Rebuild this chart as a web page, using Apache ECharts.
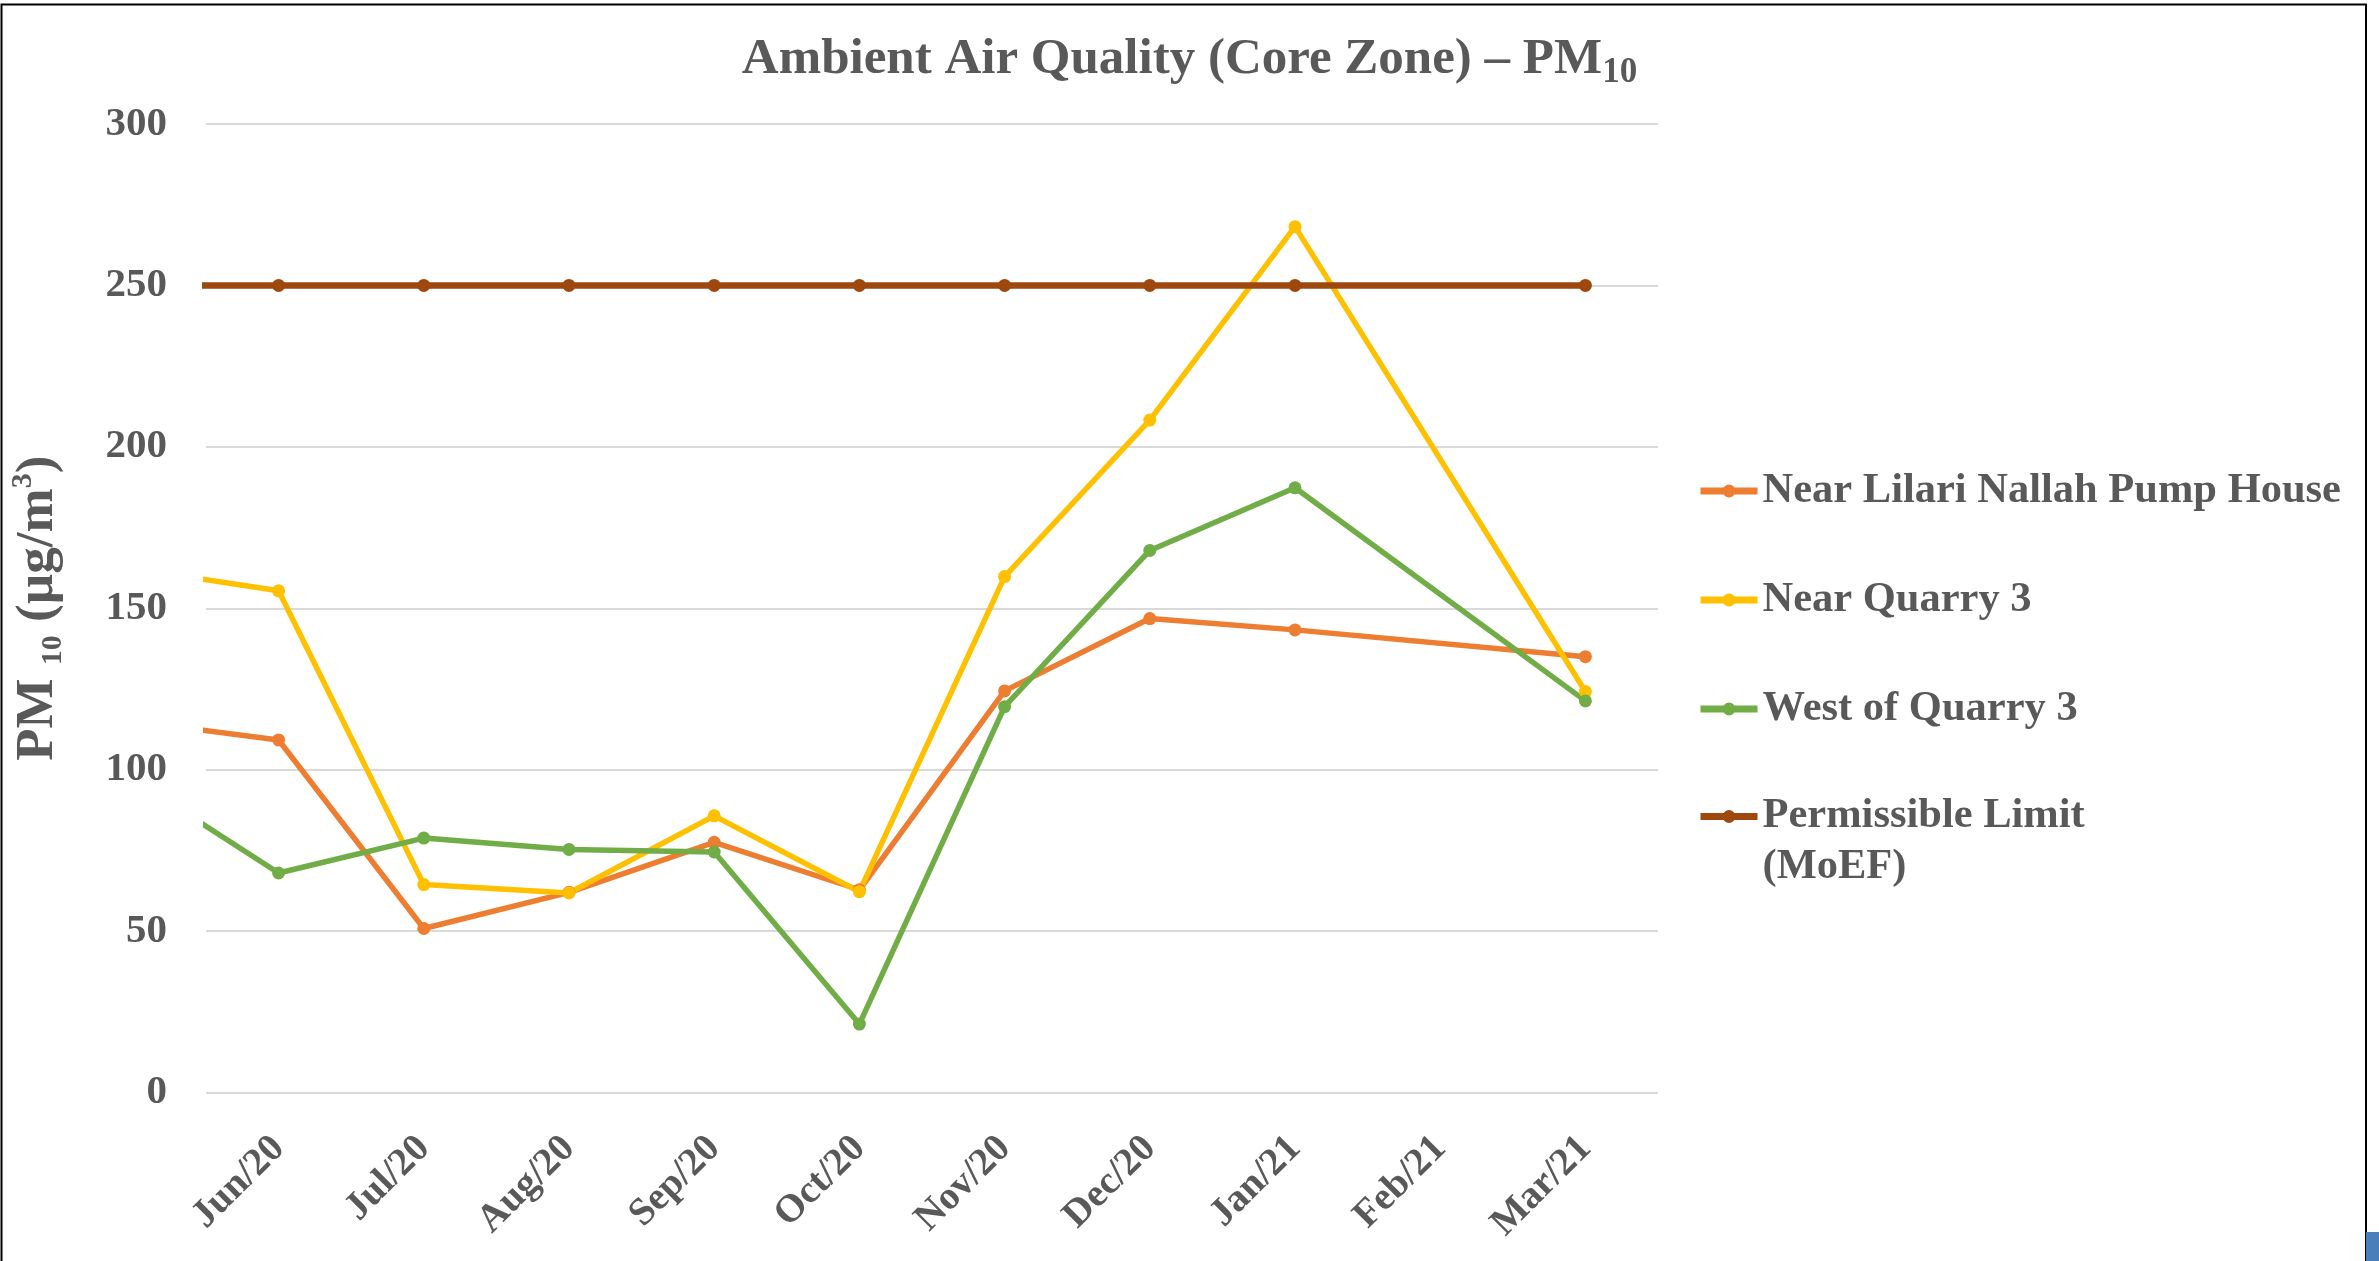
<!DOCTYPE html>
<html>
<head>
<meta charset="utf-8">
<script src="https://cdn.jsdelivr.net/npm/echarts@6/dist/echarts.min.js"></script>
<style>
html,body{margin:0;padding:0;background:#ffffff;}
#chart{width:2379px;height:1261px;}
</style>
</head>
<body>
<div id="chart"></div>
<script>
// Month categories (May/20 lies just outside the visible window, only its segment enters at the left edge)
const monthLabels = ['May/20','Jun/20','Jul/20','Aug/20','Sep/20','Oct/20','Nov/20','Dec/20','Jan/21','Feb/21','Mar/21'];
const seriesNames = ['Near Lilari Nallah Pump House','Near Quarry 3','West of Quarry 3','Permissible Limit (MoEF)'];
const nearLilariPumpHouse = [115.0, 109.2, 50.8, 62.0, 77.5, 62.8, 124.4, 146.8, 143.3, null, 135.0];
const nearQuarry3        = [162.3, 155.4, 64.4, 61.8, 85.7, 62.2, 159.8, 208.3, 268.2, null, 124.2];
const westOfQuarry3      = [97.0, 68.0, 78.8, 75.3, 74.5, 21.2, 119.5, 167.9, 187.3, null, 121.3];
const permissibleLimit   = [250, 250, 250, 250, 250, 250, 250, 250, 250, null, 250];
const yTicks = [0, 50, 100, 150, 200, 250, 300];
const seriesColors = ['#ED7D31', '#FFC000', '#70AD47', '#9E480E'];

const FONT = "'Liberation Serif', 'Times New Roman', serif";
const TXT = '#595959';

function toPoints(arr) {
  return arr.map((v, i) => [i - 1, v === null ? '-' : v]);
}
const visibleIdx = monthLabels.slice(1).map((_, i) => i);

const allValues = [nearLilariPumpHouse, nearQuarry3, westOfQuarry3, permissibleLimit];

const chart = echarts.init(document.getElementById('chart'), null, {renderer: 'canvas'});

const legendText = {fontFamily: FONT, fontWeight: 'bold', fontSize: 42.5, lineHeight: 51, color: TXT};

const option = {
  backgroundColor: '#ffffff',
  animation: false,
  title: {
    text: '{a|Ambient Air Quality (Core Zone) – PM}{s|10}',
    left: 'center',
    top: 30,
    padding: 0,
    textStyle: {
      rich: {
        a: {fontFamily: FONT, fontWeight: 'bold', fontSize: 51, lineHeight: 60, color: TXT},
        s: {fontFamily: FONT, fontWeight: 'bold', fontSize: 35, lineHeight: 28, verticalAlign: 'bottom', color: TXT}
      }
    }
  },
  grid: {left: 205, right: 721, top: 124, bottom: 168.5, containLabel: false},
  legend: [
    {
      orient: 'vertical',
      left: 1697,
      top: 465.5,
      padding: 0,
      itemGap: 58,
      itemWidth: 57,
      itemHeight: 16,
      lineStyle: {width: 7},
      data: seriesNames.slice(0, 3),
      textStyle: legendText
    },
    {
      orient: 'vertical',
      left: 1697,
      top: 740,
      padding: 0,
      itemWidth: 57,
      itemHeight: 16,
      lineStyle: {width: 7},
      data: [seriesNames[3]],
      // blank first line keeps the icon level with "Permissible Limit"
      formatter: function (name) { return ' \n' + name.replace(' (MoEF)', '\n(MoEF)'); },
      textStyle: legendText
    }
  ],
  xAxis: {
    type: 'value',
    min: -0.5,
    max: 9.5,
    axisLine: {show: false},
    axisTick: {show: false},
    splitLine: {show: false},
    axisLabel: {
      customValues: visibleIdx,
      formatter: function (v) { return monthLabels[Math.round(v) + 1]; },
      rotate: 45,
      margin: 50,
      fontFamily: FONT,
      fontWeight: 'bold',
      fontSize: 39,
      color: TXT
    }
  },
  yAxis: {
    type: 'value',
    min: yTicks[0],
    max: yTicks[yTicks.length - 1],
    interval: yTicks[1] - yTicks[0],
    axisLine: {show: false},
    axisTick: {show: false},
    splitLine: {lineStyle: {color: '#D9D9D9', width: 2}},
    axisLabel: {margin: 39, fontFamily: FONT, fontWeight: 'bold', fontSize: 41, color: TXT},
    name: '{a|PM }{s|10}{a| (µg/m}{p|3}{a|)}',
    nameLocation: 'middle',
    nameRotate: 90,
    nameGap: 138,
    nameTextStyle: {
      rich: {
        a: {fontFamily: FONT, fontWeight: 'bold', fontSize: 53, lineHeight: 60, color: TXT},
        s: {fontFamily: FONT, fontWeight: 'bold', fontSize: 30, lineHeight: 44, verticalAlign: 'bottom', color: TXT},
        p: {fontFamily: FONT, fontWeight: 'bold', fontSize: 30, lineHeight: 30, verticalAlign: 'top', color: TXT}
      }
    }
  },
  series: allValues.map((vals, k) => ({
    name: seriesNames[k],
    type: 'line',
    data: toPoints(vals),
    connectNulls: true,
    clip: true,
    symbol: 'circle',
    symbolSize: 13,
    showAllSymbol: true,
    color: seriesColors[k],
    itemStyle: {color: seriesColors[k]},
    lineStyle: {color: seriesColors[k], width: k === 3 ? 6.5 : 5.5}
  })),
  graphic: [
    {type: 'rect', shape: {x: 1.5, y: 4.5, width: 2364.5, height: 1300}, style: {fill: null, stroke: '#000000', lineWidth: 2}, silent: true, z: 100},
    {type: 'rect', shape: {x: 2366, y: 1232, width: 13, height: 29}, style: {fill: '#4A7EBB'}, silent: true, z: 100}
  ]
};
chart.setOption(option);
</script>
</body>
</html>
